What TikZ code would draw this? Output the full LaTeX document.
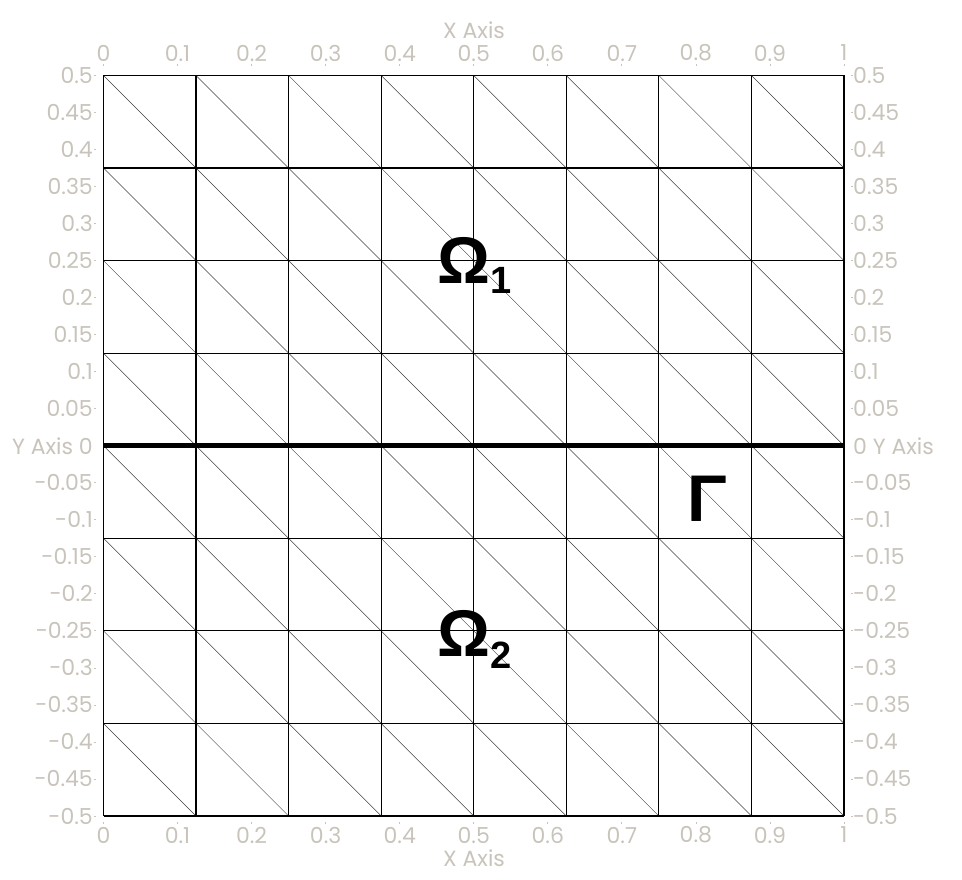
\documentclass[tikz,border=0pt]{standalone}
\usepackage{fontspec}
\setmainfont{Poppins}
\newfontfamily\boldsans{Liberation Sans}
\definecolor{axisgrey}{RGB}{200,196,188}
\begin{document}
\begin{tikzpicture}[x=1pt,y=-1pt,
  ticklab/.style={text=axisgrey,font=\fontsize{22}{22}\selectfont,inner sep=0pt},
  gridline/.style={black,line width=1.2pt},
  diagline/.style={black!75,line width=0.5pt},
  iface/.style={black,line width=4.8pt},
  domlab/.style={font=\boldsans\bfseries\fontsize{66}{66}\selectfont,inner sep=0pt,anchor=base west},
  sublab/.style={font=\boldsans\bfseries\fontsize{38}{38}\selectfont,inner sep=0pt,anchor=base west},
  tickmark/.style={axisgrey,line width=0.8pt}]
\useasboundingbox (0,0) rectangle (962,880);
\def\xa{103.5}\def\ya{75.5}\def\cs{92.5625}
% diagonals
\foreach \i in {0,...,7}{
  \foreach \j in {0,...,7}{
    \draw[diagline] ({\xa+\i*\cs},{\ya+\j*\cs}) -- ({\xa+(\i+1)*\cs},{\ya+(\j+1)*\cs});
  }
}
% grid
\foreach \i in {0,...,8}{
  \draw[gridline] ({\xa+\i*\cs},\ya) -- ({\xa+\i*\cs},{\ya+8*\cs});
  \draw[gridline] (\xa,{\ya+\i*\cs}) -- ({\xa+8*\cs},{\ya+\i*\cs});
}
% interface
\coordinate (gl) at (\xa,{\ya+4*\cs});
\coordinate (gr) at ({\xa+8*\cs},{\ya+4*\cs});
\draw[iface] (gl) -- (gr);
% x tick labels
\foreach \v/\t in {0/0,1/0.1,2/0.2,3/0.3,4/0.4,5/0.5,6/0.6,7/0.7,8/0.8,9/0.9,10/1}{
  \node[ticklab] (xt\v) at ({\xa+\v*74.05},53) {\t};
  \node[ticklab] (xb\v) at ({\xa+\v*74.05},835) {\t};
  \draw[tickmark] ({\xa+\v*74.05},64) -- ({\xa+\v*74.05},66);
  \draw[tickmark] ({\xa+\v*74.05},822) -- ({\xa+\v*74.05},824);
}
\node[ticklab] (xaxtop) at (474,30) {X Axis};
\node[ticklab] (xaxbot) at (474,858) {X Axis};
% y tick labels
\foreach \k/\t in {0/0.5,1/0.45,2/0.4,3/0.35,4/0.3,5/0.25,6/0.2,7/0.15,8/0.1,9/0.05,11/-0.05,12/-0.1,13/-0.15,14/-0.2,15/-0.25,16/-0.3,17/-0.35,18/-0.4,19/-0.45,20/-0.5}{
  \node[ticklab,anchor=east] (yl\k) at (93,{\ya+\k*37.025}) {\t};
  \node[ticklab,anchor=west] (yr\k) at (853,{\ya+\k*37.025}) {\t};
  \draw[tickmark] (94,{\ya+\k*37.025}) -- (96,{\ya+\k*37.025});
  \draw[tickmark] (851,{\ya+\k*37.025}) -- (853,{\ya+\k*37.025});
}
\node[ticklab,anchor=east] (yl10) at (93,{\ya+10*37.025}) {Y Axis 0};
\node[ticklab,anchor=west] (yr10) at (853,{\ya+10*37.025}) {0 Y Axis};
% domain labels
\node[domlab] (om1) at (437,283) {Ω};
\node[sublab] (om1sub) at (490,293) {1};
\node[domlab] (om2) at (437,656) {Ω};
\node[sublab] (om2sub) at (490,668) {2};
\node[domlab] (gam) at (687,521) {Γ};
\end{tikzpicture}
\end{document}
